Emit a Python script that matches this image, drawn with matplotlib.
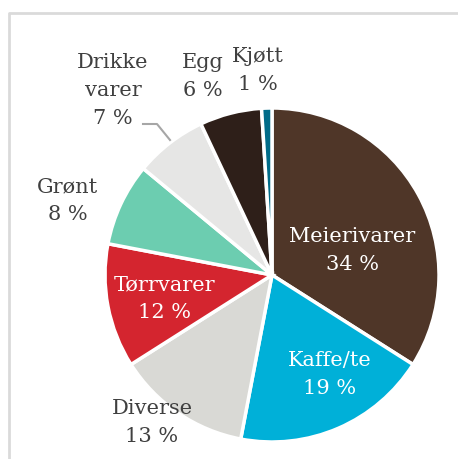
import matplotlib.pyplot as plt
from matplotlib.lines import Line2D

# share of purchases by product group
categories = ["Meierivarer", "Kaffe/te", "Diverse", "Tørrvarer",
              "Grønt", "Drikke\nvarer", "Egg", "Kjøtt"]
shares = [34, 19, 13, 12, 8, 7, 6, 1]

colors = ["#4f3628", "#00b0d8", "#d9d9d5", "#d4252f",
          "#6ccdb0", "#e6e6e5", "#2e1f19", "#006b88"]
explode = [0.02, 0, 0, 0, 0, 0, 0, 0]

# label placement in pixels (x, y from top) and text colour
label_pos = [(352, 250), (330, 375), (152, 423), (165, 299),
             (68, 201), (113, 90), (203, 77), (258, 71)]
label_col = ["white", "white", "#404040", "white",
             "#404040", "#404040", "#404040", "#404040"]

W, H = 458, 459
fig = plt.figure(figsize=(W / 100, H / 100), dpi=100)
ax = fig.add_axes([0, 0, 1, 1])

ax.pie(shares, colors=colors, explode=explode, startangle=90,
       counterclock=False, radius=167, center=(272, H - 275),
       wedgeprops=dict(edgecolor="white", linewidth=2.5))

ax.set_xlim(0, W)
ax.set_ylim(0, H)
ax.set_aspect("equal")
ax.axis("off")

for name, val, (x, y), c in zip(categories, shares, label_pos, label_col):
    ax.text(x, H - y, f"{name}\n{val} %", ha="center", va="center",
            color=c, fontsize=15, family="DejaVu Serif", linespacing=1.6)

# leader line for the small drink slice
ax.add_line(Line2D([143, 157, 170], [H - 124, H - 124, H - 140],
                   color="#a6a6a6", lw=1.5))

# light frame on top and left
ax.add_line(Line2D([9, 9, W], [0, H - 13, H - 13], color="#dadada", lw=2))

fig.savefig("out.png", dpi=100)
